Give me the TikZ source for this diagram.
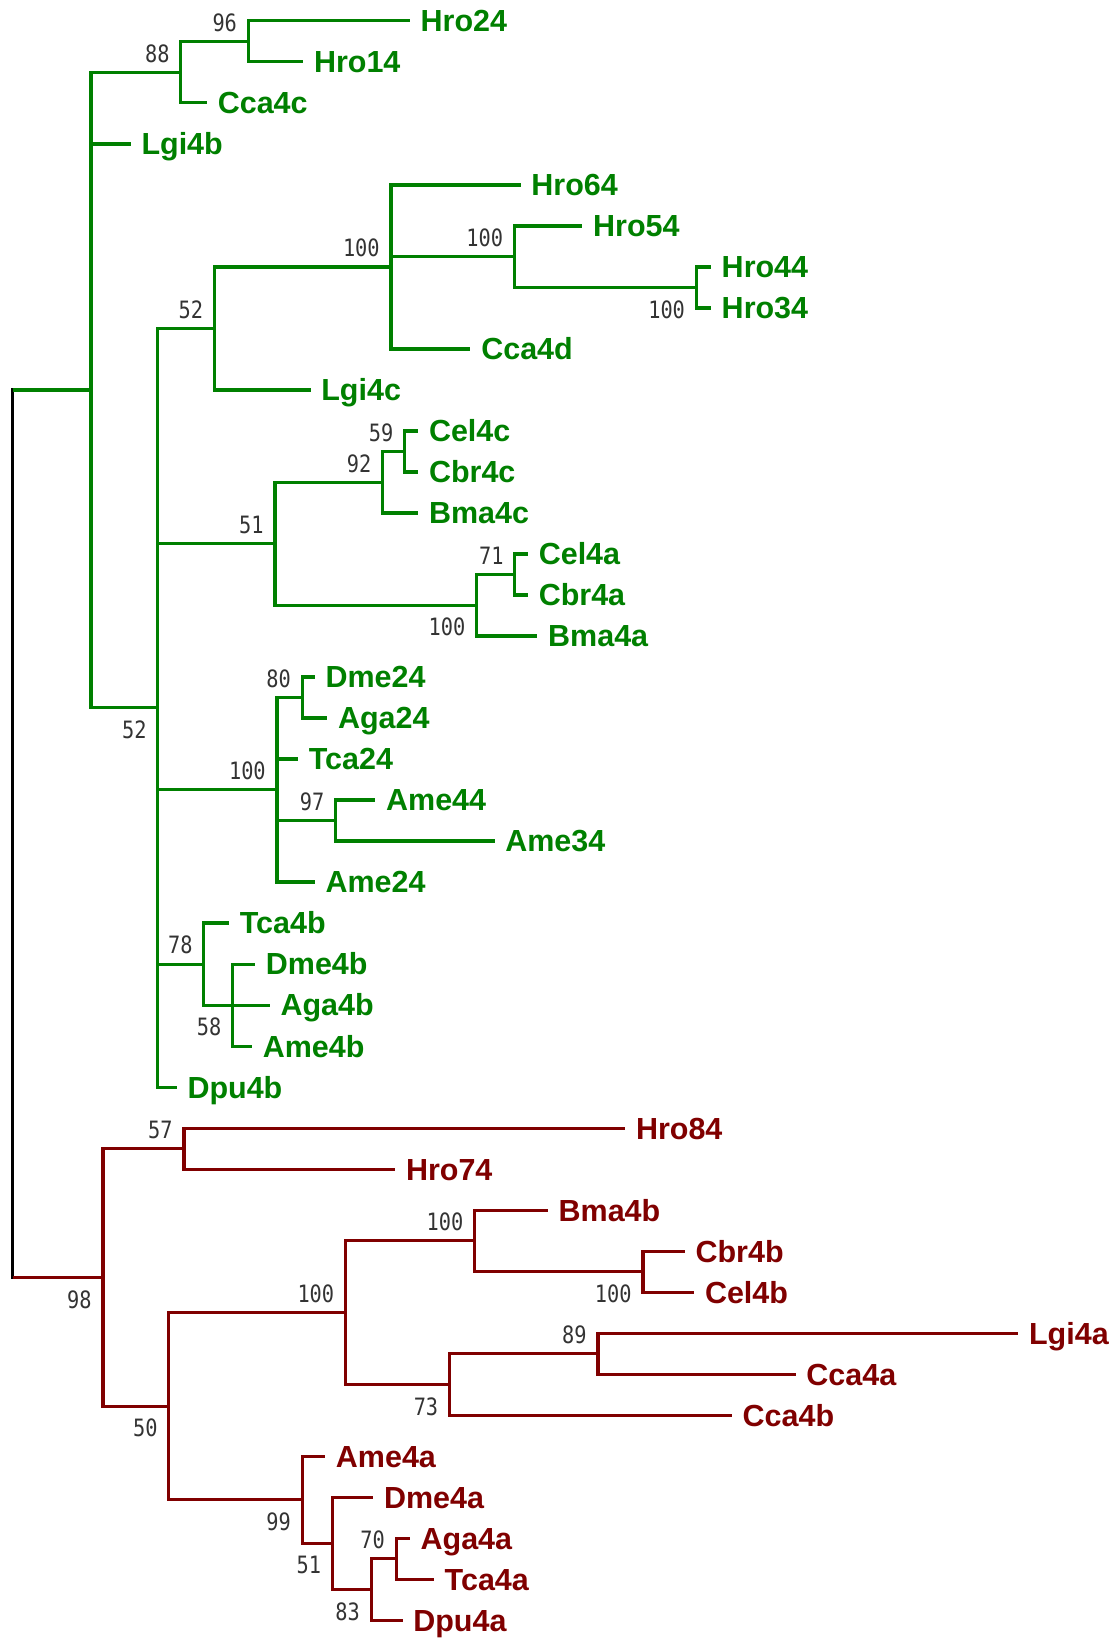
\documentclass[tikz,border=0pt]{standalone}
\usepackage{fontspec}
\setmainfont{Liberation Sans}
\newfontfamily\bootfont[FakeStretch=0.85]{DejaVu Sans Mono}
\usetikzlibrary{positioning}
\definecolor{grnclade}{RGB}{0,128,0}
\definecolor{redclade}{RGB}{128,0,0}

\begin{document}
\begin{tikzpicture}[
  x=0.02cm, y=-0.7846cm,
  branch/.style = {line width=1.7pt},
  taxon/.style  = {anchor=west, inner xsep=0.2cm, inner ysep=0pt,
                   font=\fontsize{16.6}{18}\selectfont\bfseries,
                   text height=11.9pt, text depth=0pt},
  boot/.style   = {anchor=east, inner sep=0pt, text=black!80,
                   font=\bootfont\fontsize{13}{15}\selectfont,
                   text height=9.5pt, text depth=0pt},
  bsup/.style   = {boot, xshift=-0.21cm, yshift=0.36cm},
  bsdn/.style   = {boot, xshift=-0.21cm, yshift=-0.42cm}
    ]
  \useasboundingbox (0,-0.51) rectangle (1071,39.46);

  % root
  \coordinate (rtA) at (12,9);
  \coordinate (rtB) at (12,30.64);
  \draw[branch, line cap=rect] (rtA) -- (rtB);

  \begin{scope}[grnclade]
  \coordinate (nA)    at (87,9);
  \coordinate (n88)   at (173,1.25);
  \coordinate (n96)   at (237.5,0.5);
  \coordinate (nB)    at (151,16.75);
  \coordinate (n52a)  at (205,7.5);
  \coordinate (n100a) at (374,6);
  \coordinate (n100b) at (492,5.75);
  \coordinate (n100c) at (666,6.5);
  \coordinate (n51)   at (263,12.75);
  \coordinate (n92)   at (366,11.25);
  \coordinate (n59)   at (387,10.5);
  \coordinate (n100d) at (456,14.25);
  \coordinate (n71)   at (492.5,13.5);
  \coordinate (n100e) at (265,18.75);
  \coordinate (n80)   at (289,16.5);
  \coordinate (n97)   at (321,19.5);
  \coordinate (n78)   at (195,23);
  \coordinate (n58)   at (222.5,24);

  \node[taxon] (hro24) at (392,0)  {Hro24};
  \node[taxon] (hro14) at (290,1)  {Hro14};
  \node[taxon] (cca4c) at (198,2)  {Cca4c};
  \node[taxon] (lgi4b) at (125,3)  {Lgi4b};
  \node[taxon] (hro64) at (498,4)  {Hro64};
  \node[taxon] (hro54) at (557,5)  {Hro54};
  \node[taxon] (hro44) at (680,6)  {Hro44};
  \node[taxon] (hro34) at (680,7)  {Hro34};
  \node[taxon] (cca4d) at (450,8)  {Cca4d};
  \node[taxon] (lgi4c) at (297,9)  {Lgi4c};
  \node[taxon] (cel4c) at (400,10) {Cel4c};
  \node[taxon] (cbr4c) at (400,11) {Cbr4c};
  \node[taxon] (bma4c) at (400,12) {Bma4c};
  \node[taxon] (cel4a) at (505,13) {Cel4a};
  \node[taxon] (cbr4a) at (505,14) {Cbr4a};
  \node[taxon] (bma4a) at (514,15) {Bma4a};
  \node[taxon] (dme24) at (301,16) {Dme24};
  \node[taxon] (aga24) at (313,17) {Aga24};
  \node[taxon] (tca24) at (285,18) {Tca24};
  \node[taxon] (ame44) at (359,19) {Ame44};
  \node[taxon] (ame34) at (473,20) {Ame34};
  \node[taxon] (ame24) at (301,21) {Ame24};
  \node[taxon] (tca4b) at (219,22) {Tca4b};
  \node[taxon] (dme4b) at (244,23) {Dme4b};
  \node[taxon] (aga4b) at (258,24) {Aga4b};
  \node[taxon] (ame4b) at (241,25) {Ame4b};
  \node[taxon] (dpu4b) at (169,26) {Dpu4b};

  \draw[branch] (rtA) -- (nA);
  \foreach \p/\c in {nA/n88, nA/lgi4b, nA/nB, n88/n96, n88/cca4c,
      n96/hro24, n96/hro14, nB/n52a, nB/n51, nB/n100e, nB/n78, nB/dpu4b,
      n52a/n100a, n52a/lgi4c, n100a/hro64, n100a/n100b, n100a/cca4d,
      n100b/hro54, n100b/n100c, n100c/hro44, n100c/hro34,
      n51/n92, n51/n100d, n92/n59, n92/bma4c, n59/cel4c, n59/cbr4c,
      n100d/n71, n100d/bma4a, n71/cel4a, n71/cbr4a,
      n100e/n80, n100e/tca24, n100e/n97, n100e/ame24,
      n80/dme24, n80/aga24, n97/ame44, n97/ame34,
      n78/tca4b, n78/n58, n58/dme4b, n58/aga4b, n58/ame4b}
    \draw[branch] (\p) |- (\c);

  \node[bsup] (l96)   at (n96)   {96};
  \node[bsup] (l88)   at (n88)   {88};
  \node[bsup] (l100a) at (n100a) {100};
  \node[bsup] (l100b) at (n100b) {100};
  \node[bsdn] (l100c) at (n100c) {100};
  \node[bsup] (l52a)  at (n52a)  {52};
  \node[bsdn] (l52b)  at (nB)    {52};
  \node[bsup] (l59)   at (n59)   {59};
  \node[bsup] (l92)   at (n92)   {92};
  \node[bsup] (l51)   at (n51)   {51};
  \node[bsup] (l71)   at (n71)   {71};
  \node[bsdn] (l100d) at (n100d) {100};
  \node[bsup] (l80)   at (n80)   {80};
  \node[bsup] (l100e) at (n100e) {100};
  \node[bsup] (l97)   at (n97)   {97};
  \node[bsup] (l78)   at (n78)   {78};
  \node[bsdn] (l58)   at (n58)   {58};
  \end{scope}

  \begin{scope}[redclade]
  \coordinate (n98)   at (98.5,30.64);
  \coordinate (n57)   at (176,27.5);
  \coordinate (n50)   at (161.5,33.78);
  \coordinate (n100h) at (330.5,31.5);
  \coordinate (n100f) at (454,29.75);
  \coordinate (n100g) at (615,30.5);
  \coordinate (n73)   at (430,33.25);
  \coordinate (n89)   at (572,32.5);
  \coordinate (n99)   at (289,36.06);
  \coordinate (n51r)  at (318,37.125);
  \coordinate (n83)   at (355,38.25);
  \coordinate (n70)   at (379,37.5);

  \node[taxon] (hro84) at (598,27) {Hro84};
  \node[taxon] (hro74) at (378,28) {Hro74};
  \node[taxon] (bma4b) at (524,29) {Bma4b};
  \node[taxon] (cbr4b) at (655,30) {Cbr4b};
  \node[taxon] (cel4b) at (664,31) {Cel4b};
  \node[taxon] (lgi4a) at (974,32) {Lgi4a};
  \node[taxon] (cca4a) at (761,33) {Cca4a};
  \node[taxon] (cca4b) at (700,34) {Cca4b};
  \node[taxon] (ame4a) at (311,35) {Ame4a};
  \node[taxon] (dme4a) at (357,36) {Dme4a};
  \node[taxon] (aga4a) at (392,37) {Aga4a};
  \node[taxon] (tca4a) at (415,38) {Tca4a};
  \node[taxon] (dpu4a) at (385,39) {Dpu4a};

  \draw[branch] (rtB) -- (n98);
  \foreach \p/\c in {n98/n57, n98/n50, n57/hro84, n57/hro74,
      n50/n100h, n50/n99, n100h/n100f, n100h/n73,
      n100f/bma4b, n100f/n100g, n100g/cbr4b, n100g/cel4b,
      n73/n89, n73/cca4b, n89/lgi4a, n89/cca4a,
      n99/ame4a, n99/n51r, n51r/dme4a, n51r/n83,
      n83/n70, n83/dpu4a, n70/aga4a, n70/tca4a}
    \draw[branch] (\p) |- (\c);

  \node[bsup] (l57)   at (n57)   {57};
  \node[bsdn] (l98)   at (n98)   {98};
  \node[bsdn] (l50)   at (n50)   {50};
  \node[bsup] (l100h) at (n100h) {100};
  \node[bsup] (l100f) at (n100f) {100};
  \node[bsdn] (l100g) at (n100g) {100};
  \node[bsdn] (l73)   at (n73)   {73};
  \node[bsup] (l89)   at (n89)   {89};
  \node[bsdn] (l99)   at (n99)   {99};
  \node[bsdn] (l51r)  at (n51r)  {51};
  \node[bsdn] (l83)   at (n83)   {83};
  \node[bsup] (l70)   at (n70)   {70};
  \end{scope}
\end{tikzpicture}
\end{document}
